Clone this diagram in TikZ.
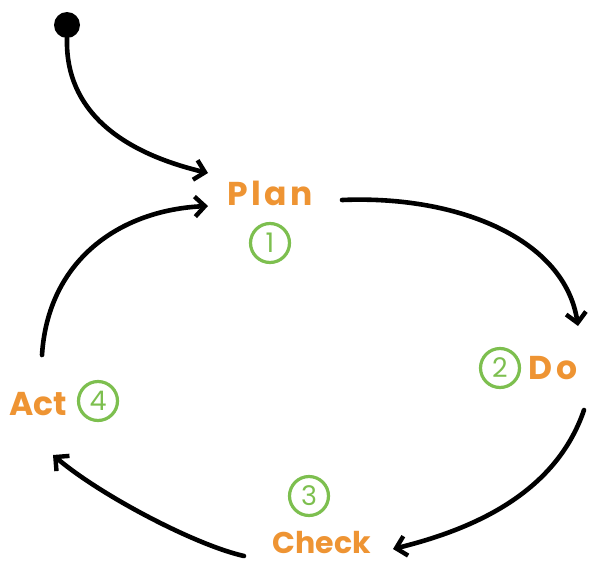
\documentclass[tikz,border=0pt]{standalone}
\usepackage{fontspec}
\setmainfont{Poppins}
\usetikzlibrary{arrows.meta}
\definecolor{pdorange}{HTML}{EE9433}
\definecolor{pdgreen}{HTML}{7DBF4F}
\tikzset{
  flow/.style={line width=4.6pt, line cap=round, -{Straight Barb[length=10pt,width=20pt,line width=4.4pt]}},
  stage/.style={text=pdorange, font=\fontsize{33}{36}\selectfont\bfseries, inner sep=0pt},
  num/.style={circle, draw=pdgreen, line width=3.2pt, minimum size=39pt, inner sep=0pt, text=pdgreen, font=\fontsize{27}{28}\selectfont},
}
\begin{document}
\begin{tikzpicture}[x=1pt,y=-1pt]
\useasboundingbox (0,0) rectangle (597,565);
\node[circle, fill=black, minimum size=26pt, inner sep=0pt] (start) at (67,25) {};
\node[stage] (plan) at (270,193) {\addfontfeature{LetterSpace=10}Plan};
\node[num] (n1) at (270,243) {1};
\node[num] (n2) at (500,368) {2};
\node[stage, anchor=west] (do) at (528,368) {\addfontfeature{LetterSpace=14}Do};
\node[num] (n3) at (309,496) {3};
\node[stage, font=\fontsize{30}{32}\selectfont\bfseries, anchor=base] (check) at (322,553) {Check};
\node[stage, anchor=east] (act) at (67,404) {Act};
\node[num] (n4) at (98,401) {4};
\coordinate (a1s) at (67,38);
\coordinate (a1e) at (208,173);
\coordinate (a2s) at (342,200);
\coordinate (a2e) at (578,326);
\coordinate (a3s) at (584,410);
\coordinate (a3e) at (393,549);
\coordinate (a4s) at (244,556);
\coordinate (a4e) at (53,455);
\coordinate (a5s) at (42,355);
\coordinate (a5e) at (208,206);
\draw[flow] (a1s) .. controls (65,110) and (120,152) .. (a1e);
\draw[flow] (a2s) .. controls (460,195) and (565,240) .. (a2e);
\draw[flow] (a3s) .. controls (555,495) and (470,530) .. (a3e);
\draw[flow] (a4s) .. controls (195,545) and (100,495) .. (a4e);
\draw[flow] (a5s) .. controls (48,260) and (120,210) .. (a5e);
\end{tikzpicture}
\end{document}
